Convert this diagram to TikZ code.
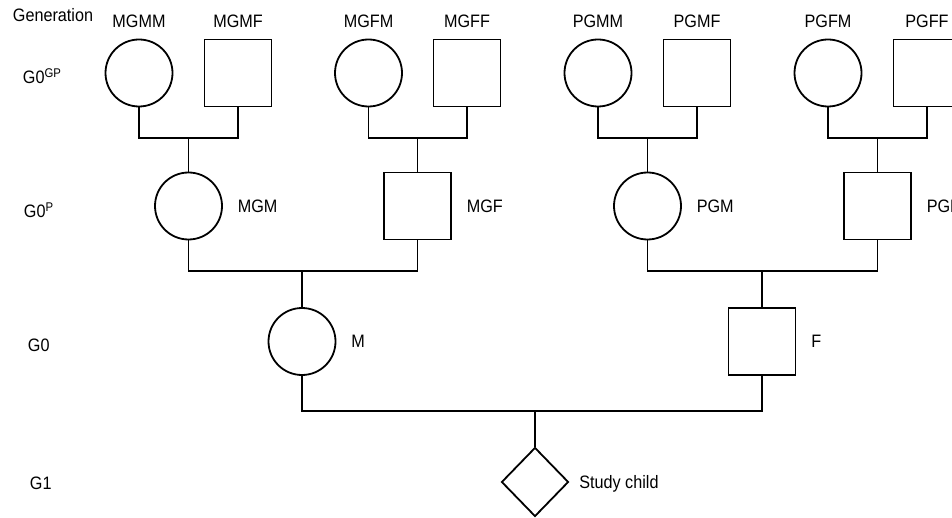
\documentclass[tikz,border=0pt]{standalone}
\usepackage{fontspec}
\setmainfont{Liberation Sans}[FakeStretch=0.9]
\usetikzlibrary{positioning,shapes.geometric}

\begin{document}
\begin{tikzpicture}[x=1pt, y=-1pt, line width=1.8pt,
    fem/.style={circle, draw, minimum size=67pt, inner sep=0pt},
    mal/.style={rectangle, draw, minimum size=67pt, inner sep=0pt},
    kid/.style={diamond, draw, minimum width=67pt, minimum height=69pt, inner sep=0pt},
    lbl/.style={inner sep=0pt, text depth=0pt, font=\fontsize{18}{21}\selectfont}]
  \useasboundingbox (0,0) rectangle (952,518);
  % generations
  \node[lbl, anchor=base west] (gen) at (12,22) {Generation};
  \node[lbl, anchor=base west] (ggp) at (22,84) {G0\textsuperscript{GP}};
  \node[lbl, anchor=base west] (gp)  at (23,218) {G0\textsuperscript{P}};
  \node[lbl, anchor=base west] (g0)  at (27,351) {G0};
  \node[lbl, anchor=base west] (g1)  at (29,489) {G1};
  % great-grandparents
  \node[fem] (mgmm) at (139,73) {};
  \node[mal] (mgmf) at (238,73) {};
  \node[fem] (mgfm) at (368.5,73) {};
  \node[mal] (mgff) at (467,73) {};
  \node[fem] (pgmm) at (598,73) {};
  \node[mal] (pgmf) at (697,73) {};
  \node[fem] (pgfm) at (828,73) {};
  \node[mal] (pgff) at (927,73) {};
  \foreach \n/\t in {mgmm/MGMM, mgmf/MGMF, mgfm/MGFM, mgff/MGFF,
                     pgmm/PGMM, pgmf/PGMF, pgfm/PGFM, pgff/PGFF}
    \node[lbl, above=10pt of \n] (\n-l) {\t};
  % grandparents
  \node[fem] (mgm) at (188.5,206) {};
  \node[mal] (mgf) at (417.5,206) {};
  \node[fem] (pgm) at (647.5,206) {};
  \node[mal] (pgf) at (877.5,206) {};
  % parents and child
  \node[fem] (m) at (302,341.5) {};
  \node[mal] (f) at (762,341.5) {};
  \node[kid] (child) at (535,482) {};
  \foreach \n/\t in {mgm/MGM, mgf/MGF, pgm/PGM, pgf/PGF, m/M, f/F}
    \node[lbl, right=14pt of \n] (\n-l) {\t};
  \node[lbl, right=9pt of child] (child-l) {Study child};
  % mating bars
  \coordinate (mgmj) at (188.5,138);
  \coordinate (mgfj) at (417.5,138);
  \coordinate (pgmj) at (647.5,138);
  \coordinate (pgfj) at (877.5,138);
  \coordinate (mj) at (302,271);
  \coordinate (fj) at (762,271);
  \coordinate (cj) at (535,411);
  \draw (mgmm) |- (mgmj) -| (mgmf) (mgmj) -- (mgm);
  \draw (mgfm) |- (mgfj) -| (mgff) (mgfj) -- (mgf);
  \draw (pgmm) |- (pgmj) -| (pgmf) (pgmj) -- (pgm);
  \draw (pgfm) |- (pgfj) -| (pgff) (pgfj) -- (pgf);
  \draw (mgm) |- (mj) -| (mgf) (mj) -- (m);
  \draw (pgm) |- (fj) -| (pgf) (fj) -- (f);
  \draw (m) |- (cj) -| (f) (cj) -- (child);
\end{tikzpicture}
\end{document}
